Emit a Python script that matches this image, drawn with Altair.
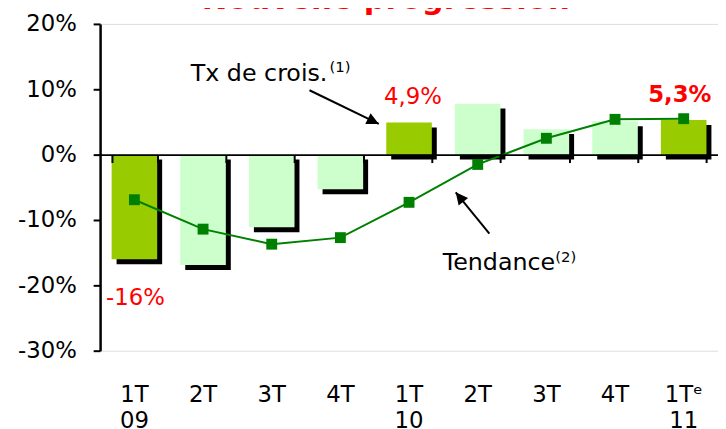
import altair as alt
import pandas as pd

# ---- data ----
quarters = ["1T", "2T", "3T", "4T", "1T", "2T", "3T", "4T", "1Tᵉ"]
years = ["09", "09", "09", "09", "10", "10", "10", "10", "11"]
growth = [-16.0, -16.9, -11.1, -5.3, 4.9, 7.8, 3.9, 5.1, 5.3]
trend = [-6.9, -11.4, -13.7, -12.7, -7.3, -1.5, 2.5, 5.4, 5.5]
value_labels = ["-16%", "", "", "", "4,9%", "", "", "", "5,3%"]
y_ticks = [-30, -20, -10, 0, 10, 20]

title_text = ["Nouvelle progression"]
note_texts = ["Tx de crois.", "Tendance"]
note_x = [0.82, 4.49]          # in category-index units
note_y = [12.4, -16.6]         # in %
note_sups = ["(1)", "(2)"]
sup_x = [2.84, 6.13]
sup_y = [13.4, -15.6]
arrow_x = [2.55, 5.17]
arrow_y = [9.85, -12.1]
arrow_x2 = [3.56, 4.68]
arrow_y2 = [4.7, -5.76]
arrow_angle = [26, 231]

periods = [f"{q} {y}" for q, y in zip(quarters, years)]
df = pd.DataFrame({
    "period": periods,
    "quarter": quarters,
    "growth": growth,
    "trend": trend,
    "label": value_labels,
})

FONT = "DejaVu Sans"
FS = 23
W, H = 624, 330

y_scale = alt.Scale(domain=[-30, 20], nice=False, zero=False)
y_axis = alt.Axis(values=y_ticks, labelExpr="datum.value + '%'", grid=False,
                  domainColor="black", domainWidth=2.5, tickColor="black",
                  tickWidth=2, tickSize=7, labelPadding=17, labelFontSize=FS,
                  labelFont=FONT, labelColor="black", title=None, zindex=1)

x_scale = alt.Scale(type="band", domain=periods, paddingInner=0.3365, paddingOuter=0.168)

tick_axis = alt.Axis(orient="bottom", offset=-198, labels=False, domain=True,
                     domainColor="black", domainWidth=2, ticks=True, tickBand="extent",
                     tickSize=8, tickColor="black", tickWidth=2, title=None,
                     grid=False, zindex=1)
label_axis = alt.Axis(orient="bottom", domain=False, ticks=False, labelPadding=33,
                      labelFontSize=FS, labelFont=FONT, labelLineHeight=27,
                      labelAngle=0, labelColor="black", labelOverlap=False,
                      labelExpr="indexof(datum.value, '1T') == 0 ? split(datum.value, ' ') : split(datum.value, ' ')[0]",
                      title=None, grid=False)

base = alt.Chart(df)

shadow = base.mark_bar(color="black", xOffset=5, yOffset=5, y2Offset=5).encode(
    x=alt.X("period:N", scale=x_scale, axis=tick_axis, sort=periods),
    y=alt.Y("growth:Q", scale=y_scale, axis=y_axis),
    y2=alt.datum(0),
)

bars = base.mark_bar().encode(
    x=alt.X("period:N", scale=x_scale, axis=label_axis, sort=periods),
    y=alt.Y("growth:Q", scale=y_scale, axis=y_axis),
    y2=alt.datum(0),
    color=alt.condition("indexof(datum.quarter, '1T') == 0",
                        alt.value("#99CC00"), alt.value("#CCFFCC")),
)

line = base.mark_line(
    color="#008000", strokeWidth=2,
    point=alt.OverlayMarkDef(shape="square", size=121, color="#008000", filled=True, opacity=1),
).encode(
    x=alt.X("period:N", scale=x_scale, axis=None, sort=periods),
    y=alt.Y("trend:Q", scale=y_scale, axis=y_axis),
)

last = periods[-1]
lab_neg = base.transform_filter("datum.label != '' && datum.growth < 0").mark_text(
    color="#FF0000", fontSize=FS, font=FONT, dy=39, dx=1
).encode(
    x=alt.X("period:N", scale=x_scale, axis=None, sort=periods),
    y=alt.Y("growth:Q", scale=y_scale, axis=y_axis),
    text="label:N",
)
lab_pos = base.transform_filter(
    f"datum.label != '' && datum.growth > 0 && datum.period != '{last}'"
).mark_text(color="#FF0000", fontSize=FS, font=FONT, dy=-26, dx=4).encode(
    x=alt.X("period:N", scale=x_scale, axis=None, sort=periods),
    y=alt.Y("growth:Q", scale=y_scale, axis=y_axis),
    text="label:N",
)
lab_last = base.transform_filter(f"datum.period == '{last}'").mark_text(
    color="#FF0000", fontSize=FS, font=FONT, fontWeight="bold", dy=-25, dx=-4
).encode(
    x=alt.X("period:N", scale=x_scale, axis=None, sort=periods),
    y=alt.Y("growth:Q", scale=y_scale, axis=y_axis),
    text="label:N",
)

main = alt.layer(shadow, bars, line, lab_neg, lab_pos, lab_last).resolve_axis(x="independent")

qx_scale = alt.Scale(domain=[-0.5, 8.5], nice=False, zero=False)

notes_df = pd.DataFrame({"x": note_x, "y": note_y, "text": note_texts})
sups_df = pd.DataFrame({"x": sup_x, "y": sup_y, "text": note_sups})
arrows_df = pd.DataFrame({"x": arrow_x, "y": arrow_y, "x2": arrow_x2, "y2": arrow_y2,
                          "angle": arrow_angle})
title_df = pd.DataFrame({"x": [3.66], "y": [22.3], "text": title_text})

notes = alt.Chart(notes_df).mark_text(align="left", baseline="middle", fontSize=24,
                                      font=FONT, color="black").encode(
    x=alt.X("x:Q", scale=qx_scale, axis=None),
    y=alt.Y("y:Q", scale=y_scale, axis=y_axis),
    text="text:N",
)
sups = alt.Chart(sups_df).mark_text(align="left", baseline="middle", fontSize=15,
                                    font=FONT, color="black").encode(
    x=alt.X("x:Q", scale=qx_scale, axis=None),
    y=alt.Y("y:Q", scale=y_scale, axis=y_axis),
    text="text:N",
)
arrow_lines = alt.Chart(arrows_df).mark_rule(color="black", strokeWidth=2).encode(
    x=alt.X("x:Q", scale=qx_scale, axis=None),
    x2="x2:Q",
    y=alt.Y("y:Q", scale=y_scale, axis=y_axis),
    y2="y2:Q",
)
arrow_heads = alt.Chart(arrows_df).mark_point(
    shape="M0,0 L-1,-0.5 L-1,0.5 Z", filled=True, color="black", opacity=1, size=600
).encode(
    x=alt.X("x2:Q", scale=qx_scale, axis=None),
    y=alt.Y("y2:Q", scale=y_scale, axis=y_axis),
    angle=alt.Angle("angle:Q", scale=None),
)
title = alt.Chart(title_df).mark_text(align="center", baseline="alphabetic", fontSize=31,
                                      fontWeight="bold", font=FONT, color="#FF0000").encode(
    x=alt.X("x:Q", scale=qx_scale, axis=None),
    y=alt.Y("y:Q", scale=y_scale, axis=y_axis),
    text="text:N",
)

chart = alt.layer(main, arrow_lines, arrow_heads, notes, sups, title).resolve_scale(
    x="independent"
).properties(
    width=W, height=H,
    autosize=alt.AutoSizeParams(type="none"),
    padding={"left": 93, "top": 14, "right": 0, "bottom": 77},
).configure_view(stroke=None).configure(font=FONT)

chart.save("out.html", embed_options={"renderer": "svg", "actions": False})
